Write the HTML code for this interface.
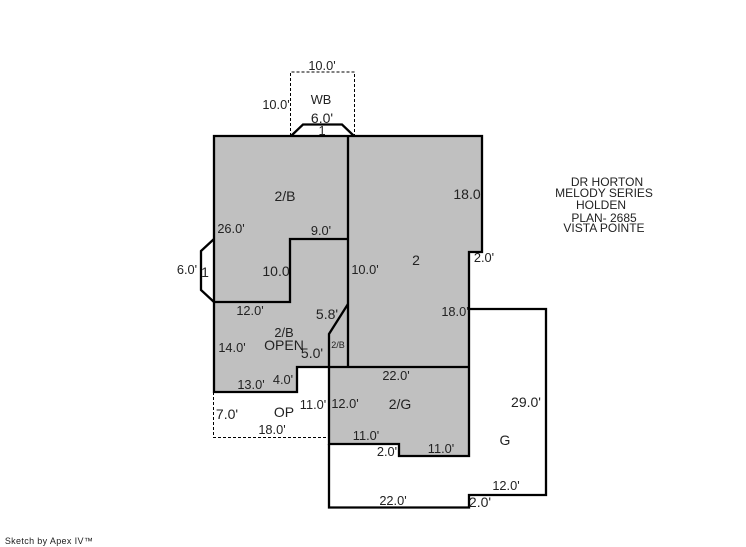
<!DOCTYPE html>
<html><head><meta charset="utf-8"><style>
html,body{margin:0;padding:0;background:#fff}
svg{display:block}
text{font-family:"Liberation Sans",Arial,sans-serif;font-size:12.8px;fill:#222;text-anchor:middle}
.b{font-size:14px}
.t{font-size:12px}
</style></head><body>
<svg width="746" height="547" viewBox="0 0 746 547" xmlns="http://www.w3.org/2000/svg">
<polygon points="214,136 482,136 482,252 469,252 469,456 399,456 399,444 329,444 329,367 297,367 297,392 214,392" fill="#c0c0c0"/>
<g fill="none" stroke="#000" stroke-width="1" stroke-dasharray="3,2">
<polyline points="290.500,136 290.500,72 354.500,72 354.500,136"/>
<polyline points="213.500,392 213.500,437.500 329,437.500"/>
</g>
<g fill="none" stroke="#000" stroke-width="2.300">
<polygon points="214,136 482,136 482,252 469,252 469,456 399,456 399,444 329,444 329,367 297,367 297,392 214,392"/>
<line x1="348" y1="136" x2="348" y2="367"/>
<polyline points="348,239 290,239 290,302 214,302"/>
<polyline points="348,304 329,334 329,367"/>
<line x1="329" y1="367" x2="469" y2="367"/>
<polyline points="291,136 303,124.500 342,124.500 354,136"/>
<polyline points="214,239 201,251 201,290 214,302"/>
<polyline points="469,309 546,309 546,495 469,495 469,507.500 329,507.500 329,444"/>
</g>
<text x="322" y="70">10.0'</text>
<text x="276" y="109">10.0'</text>
<text x="321" y="104">WB</text>
<text x="322" y="123" class="b">6.0'</text>
<text x="322" y="135">1</text>
<text x="285" y="201" class="b">2/B</text>
<text x="231" y="233">26.0'</text>
<text x="321" y="235">9.0'</text>
<text x="467" y="199" class="b">18.0</text>
<text x="484" y="262">2.0'</text>
<text x="187" y="274">6.0'</text>
<text x="205" y="277" class="b">1</text>
<text x="276" y="276" class="b">10.0</text>
<text x="365" y="274">10.0'</text>
<text x="416" y="265" class="b">2</text>
<text x="250" y="315">12.0'</text>
<text x="455" y="316">18.0'</text>
<text x="327" y="319" class="b">5.8'</text>
<text x="284" y="337">2/B</text>
<text x="284" y="350" class="b">OPEN</text>
<text x="232" y="352">14.0'</text>
<text x="312" y="358" class="b">5.0'</text>
<text x="338" y="348" style="font-size:9px">2/B</text>
<text x="283" y="384">4.0'</text>
<text x="251" y="389">13.0'</text>
<text x="396" y="380">22.0'</text>
<text x="227" y="419" class="b">7.0'</text>
<text x="284" y="417" class="b">OP</text>
<text x="313" y="409">11.0'</text>
<text x="345" y="408">12.0'</text>
<text x="400" y="409" class="b">2/G</text>
<text x="526" y="407" class="b">29.0'</text>
<text x="272" y="434">18.0'</text>
<text x="366" y="440">11.0'</text>
<text x="505" y="445" class="b">G</text>
<text x="387" y="456">2.0'</text>
<text x="441" y="453">11.0'</text>
<text x="506" y="490">12.0'</text>
<text x="393" y="505">22.0'</text>
<text x="480" y="507" class="b">2.0'</text>
<text x="607" y="186" class="t">DR HORTON</text>
<text x="604" y="197" class="t">MELODY SERIES</text>
<text x="601" y="209" class="t">HOLDEN</text>
<text x="604" y="222" class="t">PLAN- 2685</text>
<text x="604" y="232" class="t">VISTA POINTE</text>
<text x="49" y="544" style="font-size:9px;letter-spacing:.35px">Sketch by Apex IV™</text>
</svg>
</body></html>
